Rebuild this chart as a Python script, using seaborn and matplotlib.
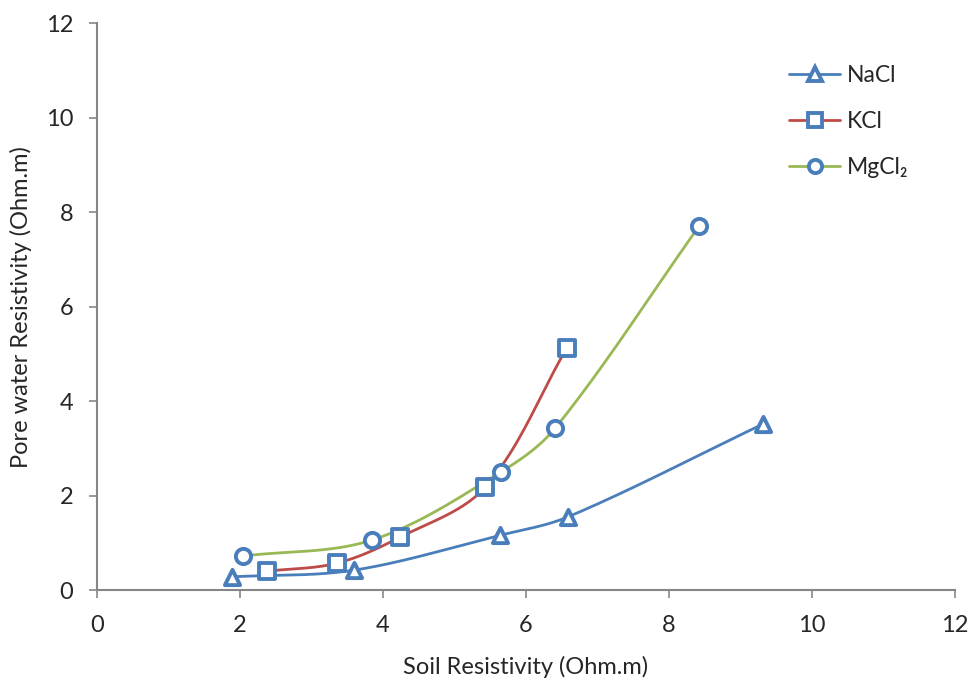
import numpy as np
import pandas as pd
import matplotlib
matplotlib.use("Agg")
import matplotlib.pyplot as plt
import seaborn as sns
from matplotlib.lines import Line2D

nacl_x = [1.89, 3.59, 5.64, 6.59, 9.31]
nacl_y = [0.28, 0.42, 1.16, 1.55, 3.51]
kcl_x = [2.38, 3.36, 4.24, 5.43, 6.57]
kcl_y = [0.40, 0.57, 1.12, 2.18, 5.12]
mgcl2_x = [2.04, 3.85, 5.65, 6.41, 8.42]
mgcl2_y = [0.72, 1.06, 2.50, 3.43, 7.70]
series_names = ["NaCl", "KCl", "MgCl₂"]

sns.set_style("white")
plt.rcParams['font.family'] = ['Lato', 'DejaVu Sans']

fig = plt.figure(figsize=(9.7, 6.79), dpi=100)
ax = fig.add_axes([0.1, 0.131, 0.8845, 0.835])

colors = ["#4A7EBB", "#BE4B48", "#98B954"]
marker_color = "#4A7EBB"
markers = ["^", "s", "o"]


def smooth(ax, x, y, n=40):
    # smoothed connecting line in display space (like a spreadsheet "smoothed line")
    pts = ax.transData.transform(np.column_stack([x, y]))
    P = np.vstack([pts[0], pts, pts[-1]])
    out = []
    for i in range(1, len(P) - 2):
        p0, p1, p2, p3 = P[i-1], P[i], P[i+1], P[i+2]
        seg = np.linalg.norm(p2 - p1)
        t1 = p2 - p0
        t2 = p3 - p1
        t1 = t1 / (np.linalg.norm(t1) or 1)
        t2 = t2 / (np.linalg.norm(t2) or 1)
        c1 = p1 + t1 * seg / 3
        c2 = p2 - t2 * seg / 3
        t = np.linspace(0, 1, n)[:, None]
        b = (1-t)**3*p1 + 3*(1-t)**2*t*c1 + 3*(1-t)*t**2*c2 + t**3*p2
        out.append(b)
    out = np.vstack(out)
    d = ax.transData.inverted().transform(out)
    return d[:, 0], d[:, 1]

ax.set_xlim(0, 12)
ax.set_ylim(0, 12)

data = [(nacl_x, nacl_y), (kcl_x, kcl_y), (mgcl2_x, mgcl2_y)]
handles = []
for (xs, ys), name, c, m in zip(data, series_names, colors, markers):
    sx, sy = smooth(ax, xs, ys)
    ax.plot(sx, sy, color=c, lw=2, zorder=2)
    df = pd.DataFrame({"x": xs, "y": ys})
    sns.scatterplot(data=df, x="x", y="y", ax=ax, marker=m, s=120,
                    facecolor="white", edgecolor=marker_color, linewidth=2.8, zorder=3)
    handles.append(Line2D([0], [0], color=c, lw=2, marker=m, markersize=9.5,
                          markerfacecolor="white", markeredgecolor=marker_color,
                          markeredgewidth=2.8, label=name))

ax.set_xlim(0, 12)
ax.set_ylim(0, 12)
ax.set_xticks(np.arange(0, 13, 2))
ax.set_yticks(np.arange(0, 13, 2))
ax.tick_params(axis='both', labelsize=17, direction='out', length=6, width=1.2,
               color="#868686", bottom=True, left=True)
ax.tick_params(axis='y', pad=11)
ax.tick_params(axis='x', pad=12)
for sp in ["top", "right"]:
    ax.spines[sp].set_visible(False)
for sp in ["left", "bottom"]:
    ax.spines[sp].set_color("#868686")
    ax.spines[sp].set_linewidth(1.5)
ax.set_xlabel("Soil Resistivity (Ohm.m)", fontsize=17, labelpad=14)
ax.set_ylabel("Pore water Resistivity (Ohm.m)", fontsize=17, labelpad=10)
ax.grid(False)

ax.legend(handles=handles, loc="upper left", bbox_to_anchor=(0.783, 0.963),
          frameon=False, fontsize=16.5, handlelength=2.2, labelspacing=1.1,
          handletextpad=0.3)

fig.savefig("out.png", dpi=100)
